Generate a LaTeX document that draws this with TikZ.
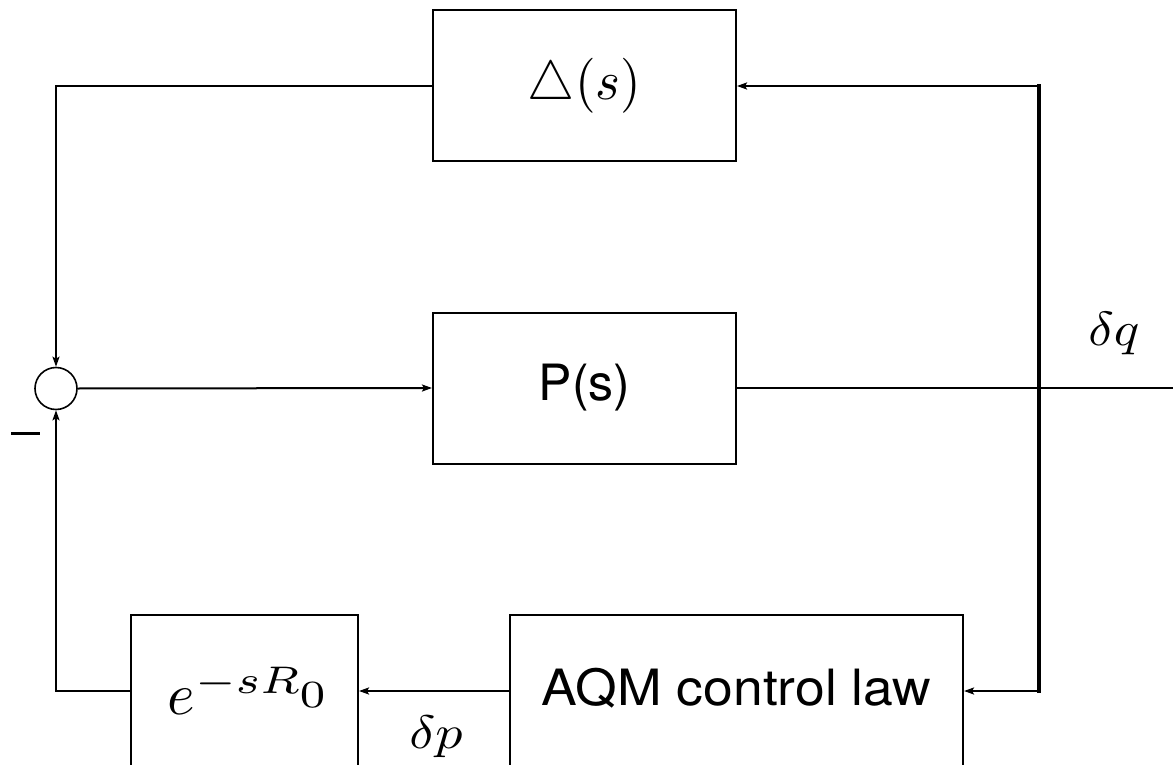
\documentclass[tikz,border=0pt]{standalone}
\usepackage{fontspec}
\setsansfont{TeX Gyre Heros}
\usetikzlibrary{arrows.meta}
% math set at 10pt and enlarged (horizontal and vertical factors)
\newcommand{\bigmath}[3]{\scalebox{#1}[#2]{$#3$}}

\begin{document}
\begin{tikzpicture}[x=1pt,y=-1pt,
  wire/.style={line width=2pt},
  sig/.style={wire,-{Stealth[length=10pt,width=7pt,inset=2pt]}},
  blockbox/.style={draw,line width=2pt,inner sep=0pt,minimum height=151pt},
  mathtxt/.style={font=\fontsize{10}{12}\selectfont},
  sanstxt/.style={font=\sffamily\fontsize{50}{60}\selectfont},
]
\useasboundingbox (0,0) rectangle (1173,765);
\clip (0,0) rectangle (1173,765);

% blocks
\node[blockbox,minimum width=303pt,mathtxt] (delta) at (584.5,86)
  {\bigmath{5.3}{5.5}{\triangle(s)}};
\node[blockbox,minimum width=303pt,sanstxt] (plant) at (584.5,388) {P(s)};
\node[blockbox,minimum width=227pt,minimum height=152pt,mathtxt,
      text height=46pt,text depth=0pt] (delay) at (244.5,691)
  {\hspace*{4pt}\bigmath{5.9}{5.9}{e}\raisebox{21pt}{\bigmath{6.5}{5.5}{\scriptstyle -sR\raisebox{-2.6pt}{$\scriptstyle 0$}}}};
\node[blockbox,minimum width=453pt,minimum height=152pt,sanstxt,
      text height=28pt,text depth=0pt] (aqm) at (736.5,691)
  {\scalebox{1.07}[1]{AQM control law}};

% summing junction and its sign
\node[circle,draw,line width=1.6pt,minimum size=42pt,inner sep=0pt] (sum) at (56,388.5) {};
\node[fill,minimum width=29pt,minimum height=3pt,inner sep=0pt] (minus) at (25.5,433) {};

% signal labels
\node[mathtxt,anchor=base,inner sep=0pt] (dq) at (1114,345) {\bigmath{5.3}{4.8}{\delta q}};
\node[mathtxt,anchor=base,inner sep=0pt] (dp) at (436,748) {\bigmath{5.4}{4.7}{\delta p}};

% feedback branch points and output end
\coordinate (rt) at (1039,86);
\coordinate (rb) at (1039,691);
\coordinate (out) at (1173,388);

% connectors
\draw[sig] (delta.west) -| (sum.north);
\draw[sig] (sum.east) -- (plant.west);
\draw[wire] (plant.east) -- (out);
\draw[line width=3.3pt,line cap=rect] (rt) -- (rb);
\draw[sig,line width=2.5pt] (rt) -- (delta.east);
\draw[sig,line width=2.5pt] (rb) -- (aqm.east);
\draw[sig] (aqm.west) -- (delay.east);
\draw[sig] (delay.west) -| (sum.south);
\end{tikzpicture}
\end{document}
